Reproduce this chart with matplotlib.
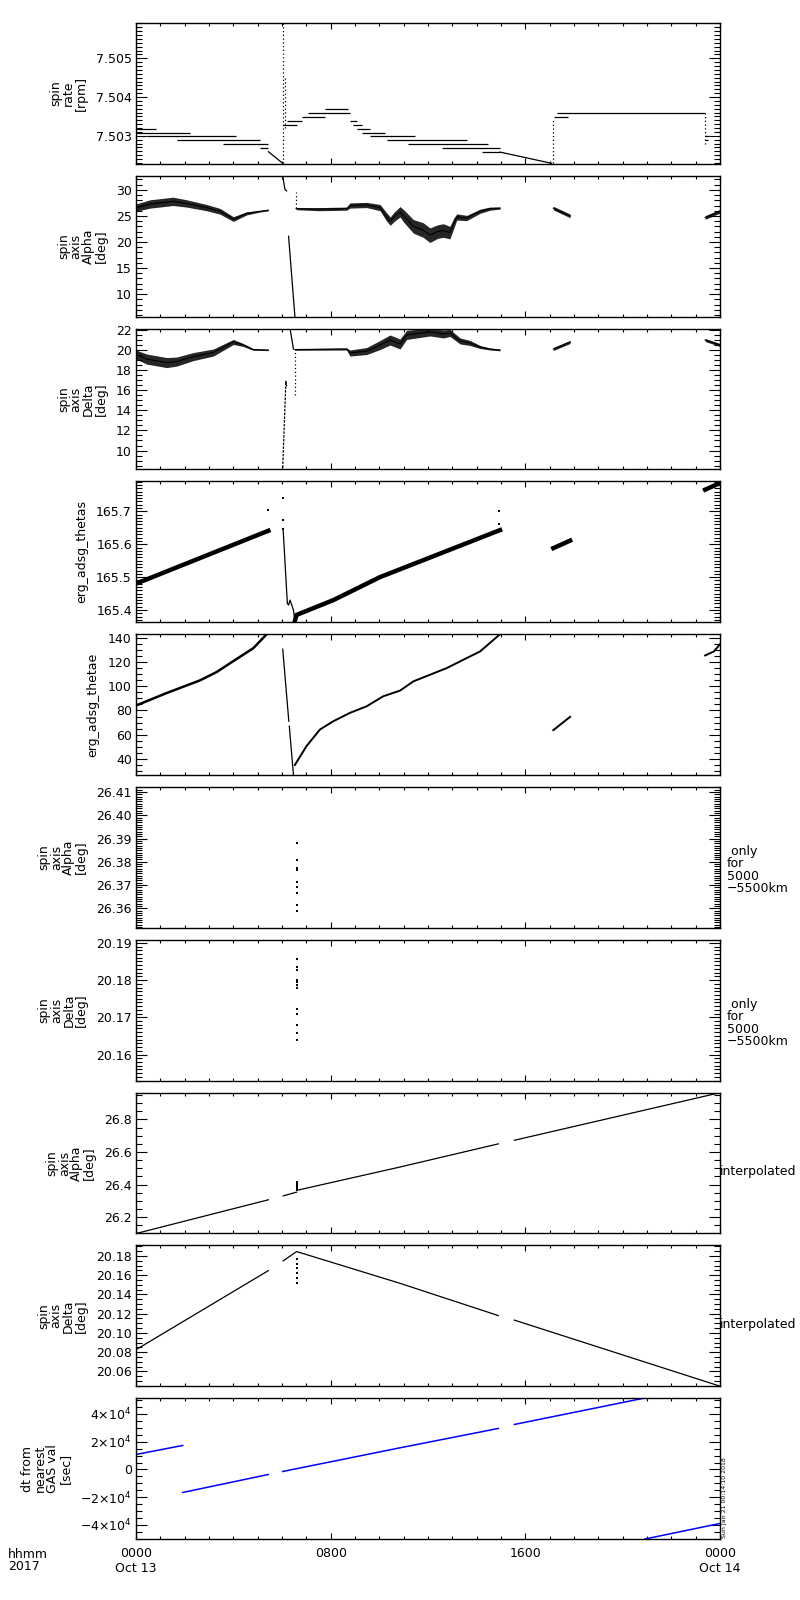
import matplotlib
matplotlib.use('Agg')
import matplotlib.pyplot as plt
import numpy as np
from matplotlib.ticker import FixedLocator, MultipleLocator, FixedFormatter

plt.rcParams['font.family'] = ['DejaVu Sans']
plt.rcParams['font.size'] = 9
plt.rcParams['mathtext.fontset'] = 'dejavusans'

# ---------------- time axis (hours since 2017-10-13 00:00 UT) ----------------
xtick_hours = [0, 8, 16, 24]
xtick_labels = ['0000\nOct 13', '0800', '1600', '0000\nOct 14']

# ---------------- panel 1: spin rate [rpm] ----------------
rate_lvl_t0 = [0.00, 0.00, 0.44, 1.67, 3.59, 5.10, 6.03, 6.22, 6.81, 7.08, 7.77, 8.79,
               8.93, 9.07, 9.27, 9.62, 10.30, 11.19, 12.56, 14.21, 17.18, 17.29, 23.39, 23.39]
rate_lvl_t1 = [0.82, 2.22, 4.11, 5.10, 5.44, 5.44, 6.60, 6.81, 7.77, 8.79, 8.73, 9.07,
               9.27, 9.62, 10.23, 11.47, 13.59, 14.48, 14.96, 14.96, 17.77, 23.39, 23.55, 23.50]
rate_lvl_v = [7.50318, 7.50307, 7.50300, 7.50290, 7.50279, 7.50268, 7.50328, 7.50337,
              7.50348, 7.50359, 7.50369, 7.50337, 7.50328, 7.50318, 7.50307, 7.50300,
              7.50290, 7.50279, 7.50268, 7.50258, 7.50348, 7.50359, 7.50300, 7.50290]
rate_ramp1_t = [5.44, 6.03]
rate_ramp1_v = [7.50259, 7.50229]
rate_ramp2_t = [14.96, 17.08]
rate_ramp2_v = [7.50258, 7.50229]
rate_spike_t = [6.03, 6.12, 17.15, 23.39]
rate_spike_lo = [7.50229, 7.50320, 7.50229, 7.50279]
rate_spike_hi = [7.50591, 7.50450, 7.50340, 7.50359]
rate_ylim = (7.50228, 7.50591)
rate_ticks = [7.503, 7.504, 7.505]
rate_ticklabels = ['7.503', '7.504', '7.505']

# ---------------- panel 2: spin axis Alpha [deg] ----------------
alpha_a_t = [0.0, 0.58, 1.53, 2.08, 2.90, 3.45, 4.00, 4.55, 5.10, 5.44]
alpha_a_v = [26.6, 27.3, 27.8, 27.4, 26.6, 25.9, 24.4, 25.5, 25.9, 26.1]
alpha_a_hw = [0.7, 0.8, 0.8, 0.7, 0.6, 0.55, 0.45, 0.3, 0.15, 0.12]
alpha_b_t = [6.58, 7.50, 8.66, 8.79, 9.48, 10.03, 10.30, 10.45, 10.60, 10.85, 11.00, 11.40,
             11.80, 12.08, 12.40, 12.63, 12.90, 13.05, 13.18, 13.59, 14.14, 14.55, 14.96]
alpha_b_v = [26.4, 26.3, 26.4, 27.0, 27.1, 26.6, 24.8, 24.0, 24.8, 25.8, 25.0, 23.0,
             22.3, 21.3, 22.0, 22.2, 21.8, 23.5, 24.8, 24.6, 25.9, 26.4, 26.5]
alpha_b_hw = [0.2, 0.3, 0.3, 0.5, 0.5, 0.6, 0.8, 0.8, 0.9, 1.0, 1.2, 1.3,
              1.4, 1.4, 1.3, 1.3, 1.2, 1.0, 0.6, 0.5, 0.4, 0.3, 0.2]
alpha_c_t = [17.15, 17.84]
alpha_c_v = [26.5, 25.0]
alpha_c_hw = [0.35, 0.35]
alpha_d_t = [23.39, 24.0]
alpha_d_v = [24.7, 25.9]
alpha_d_hw = [0.35, 0.35]
alpha_slew1_t = [6.03, 6.12, 6.19]
alpha_slew1_v = [32.7, 30.1, 29.8]
alpha_slew2_t = [6.27, 6.53]
alpha_slew2_v = [21.1, 5.7]
alpha_vdots_t = [6.58]
alpha_vdots_lo = [26.6]
alpha_vdots_hi = [29.5]
alpha_ylim = (5.7, 32.7)
alpha_ticks = [10, 15, 20, 25, 30]
alpha_ticklabels = ['10', '15', '20', '25', '30']

# ---------------- panel 3: spin axis Delta [deg] ----------------
delta_a_t = [0.0, 0.44, 1.26, 1.67, 2.36, 3.18, 4.00, 4.41, 4.82, 5.44]
delta_a_v = [19.55, 19.1, 18.75, 18.85, 19.35, 19.75, 20.8, 20.5, 20.05, 20.0]
delta_a_hw = [0.45, 0.5, 0.5, 0.45, 0.4, 0.35, 0.25, 0.15, 0.08, 0.06]
delta_b_t = [6.53, 8.66, 8.79, 9.48, 10.03, 10.44, 10.85, 11.12, 12.08, 12.63, 12.90,
             13.32, 13.73, 14.14, 14.55, 14.96]
delta_b_v = [20.05, 20.1, 19.7, 19.9, 20.5, 21.0, 20.6, 21.5, 21.8, 21.6, 21.7,
             20.9, 20.7, 20.3, 20.1, 20.0]
delta_b_hw = [0.08, 0.1, 0.3, 0.35, 0.45, 0.5, 0.5, 0.45, 0.4, 0.4, 0.35,
              0.3, 0.25, 0.15, 0.1, 0.08]
delta_c_t = [17.15, 17.84]
delta_c_v = [20.1, 20.8]
delta_c_hw = [0.15, 0.15]
delta_d_t = [23.39, 24.0]
delta_d_v = [21.0, 20.5]
delta_d_hw = [0.15, 0.15]
delta_slew1_t = [6.03, 6.10, 6.16, 6.19]
delta_slew1_v = [8.3, 13.0, 16.9, 16.4]
delta_slew2_t = [6.33, 6.47]
delta_slew2_v = [22.15, 20.1]
delta_vdots_t = [6.53]
delta_vdots_lo = [15.5]
delta_vdots_hi = [20.1]
delta_ylim = (8.13, 22.13)
delta_ticks = [10, 12, 14, 16, 18, 20, 22]
delta_ticklabels = ['10', '12', '14', '16', '18', '20', '22']

# ---------------- panel 4: erg_adsg_thetas ----------------
thetas_a_t = [0.0, 5.44]
thetas_a_v = [165.48, 165.641]
thetas_drop_t = [6.05, 6.22, 6.27, 6.33, 6.47, 6.53]
thetas_drop_v = [165.641, 165.42, 165.415, 165.43, 165.40, 165.367]
thetas_b_t = [6.53, 6.60, 8.11, 10.03, 14.96]
thetas_b_v = [165.367, 165.385, 165.43, 165.50, 165.643]
thetas_c_t = [17.15, 17.84]
thetas_c_v = [165.588, 165.611]
thetas_d_t = [23.39, 24.0]
thetas_d_v = [165.766, 165.786]
thetas_dots_t = [5.44, 6.03, 6.03, 6.03, 14.93, 14.93]
thetas_dots_v = [165.703, 165.741, 165.674, 165.646, 165.700, 165.661]
thetas_ylim = (165.363, 165.791)
thetas_ticks = [165.4, 165.5, 165.6, 165.7]
thetas_ticklabels = ['165.4', '165.5', '165.6', '165.7']

# ---------------- panel 5: erg_adsg_thetae ----------------
thetae_a_t = [0.0, 1.26, 2.63, 3.32, 4.00, 4.82, 5.37]
thetae_a_v = [84.1, 94.5, 105.0, 112.0, 121.0, 131.7, 143.3]
thetae_drop1_t = [6.03, 6.28]
thetae_drop1_v = [130.9, 71.1]
thetae_drop2_t = [6.30, 6.47]
thetae_drop2_v = [67.0, 26.5]
thetae_b_t = [6.53, 7.01, 7.56, 8.11, 8.79, 9.48, 10.16, 10.85, 11.40, 12.77, 13.45,
              14.14, 14.69, 14.96]
thetae_b_v = [34.8, 50.5, 64.2, 71.1, 78.0, 83.5, 91.8, 96.5, 104.2, 115.2, 122.1,
              129.0, 138.6, 143.3]
thetae_c_t = [17.15, 17.84]
thetae_c_v = [63.7, 74.7]
thetae_d_t = [23.39, 23.75, 24.0]
thetae_d_v = [125.7, 129.0, 135.0]
thetae_ylim = (26.5, 143.3)
thetae_ticks = [40, 60, 80, 100, 120, 140]
thetae_ticklabels = ['40', '60', '80', '100', '120', '140']

# ---------------- panel 6: spin axis Alpha, only for 5000-5500 km ----------------
alpha5k_t = [6.60] * 9
alpha5k_v = [26.3882, 26.3806, 26.3772, 26.3764, 26.3715, 26.3693, 26.3667, 26.3614, 26.3589]
alpha5k_ylim = (26.3517, 26.4121)
alpha5k_ticks = [26.36, 26.37, 26.38, 26.39, 26.40, 26.41]
alpha5k_ticklabels = ['26.36', '26.37', '26.38', '26.39', '26.40', '26.41']

# ---------------- panel 7: spin axis Delta, only for 5000-5500 km ----------------
delta5k_t = [6.60] * 12
delta5k_v = [20.1857, 20.1834, 20.1828, 20.1801, 20.1794, 20.1786, 20.1779, 20.1722,
             20.1708, 20.1679, 20.1659, 20.1638]
delta5k_ylim = (20.153, 20.1908)
delta5k_ticks = [20.16, 20.17, 20.18, 20.19]
delta5k_ticklabels = ['20.16', '20.17', '20.18', '20.19']

# ---------------- panel 8: spin axis Alpha, interpolated ----------------
alphai_a_t = [0.0, 5.44]
alphai_a_v = [26.100, 26.307]
alphai_b_t = [6.05, 6.60]
alphai_b_v = [26.331, 26.354]
alphai_c_t = [6.64, 10.85, 14.89]
alphai_c_v = [26.366, 26.508, 26.650]
alphai_d_t = [15.55, 24.0]
alphai_d_v = [26.672, 26.964]
alphai_dots_t = [6.60] * 6
alphai_dots_v = [26.365, 26.375, 26.385, 26.395, 26.405, 26.418]
alphai_ylim = (26.101, 26.964)
alphai_ticks = [26.2, 26.4, 26.6, 26.8]
alphai_ticklabels = ['26.2', '26.4', '26.6', '26.8']

# ---------------- panel 9: spin axis Delta, interpolated ----------------
deltai_a_t = [0.0, 5.44]
deltai_a_v = [20.0826, 20.1647]
deltai_b_t = [6.05, 6.60, 10.85, 14.89]
deltai_b_v = [20.1748, 20.1845, 20.1515, 20.118]
deltai_c_t = [15.55, 24.0]
deltai_c_v = [20.1133, 20.0447]
deltai_dots_t = [6.60] * 6
deltai_dots_v = [20.152, 20.157, 20.162, 20.167, 20.172, 20.177]
deltai_ylim = (20.0447, 20.1908)
deltai_ticks = [20.06, 20.08, 20.10, 20.12, 20.14, 20.16, 20.18]
deltai_ticklabels = ['20.06', '20.08', '20.10', '20.12', '20.14', '20.16', '20.18']

# ---------------- panel 10: dt from nearest GAS val [sec] ----------------
dt_a_t = [0.0, 1.92]
dt_a_v = [10811, 17300]
dt_b_t = [1.92, 5.44]
dt_b_v = [-16577, -3604]
dt_c_t = [6.03, 10.85, 14.89]
dt_c_v = [-1441, 15616, 29550]
dt_d_t = [15.55, 20.85]
dt_d_v = [32430, 51290]
dt_e_t = [20.92, 24.0]
dt_e_v = [-50090, -38900]
dt_ylim = (-50090, 51290)
dt_ticks = [-40000, -20000, 0, 20000, 40000]
dt_ticklabels = [r'$-4{\times}10^{4}$', r'$-2{\times}10^{4}$', '0',
                 r'$2{\times}10^{4}$', r'$4{\times}10^{4}$']

LABEL_ALPHA = 'spin\naxis\nAlpha\n[deg]'
LABEL_DELTA = 'spin\naxis\nDelta\n[deg]'

# ---------------- figure ----------------
W, H = 800, 1600
fig = plt.figure(figsize=(W / 100, H / 100), dpi=100)
fig.patch.set_facecolor('white')

LEFT_PX, RIGHT_PX = 136, 720
TOP0_PX, STEP_PX, HEIGHT_PX = 23, 152.81, 140.7


def make_axes(i):
    top = TOP0_PX + i * STEP_PX
    return fig.add_axes([LEFT_PX / W, 1 - (top + HEIGHT_PX) / H,
                         (RIGHT_PX - LEFT_PX) / W, HEIGHT_PX / H])


def style(ax, ylim, ticks, ticklabels, yminor, ylabel, last=False):
    ax.set_xlim(0, 24)
    ax.set_ylim(*ylim)
    ax.xaxis.set_major_locator(FixedLocator(xtick_hours))
    ax.xaxis.set_minor_locator(MultipleLocator(1))
    ax.yaxis.set_major_locator(FixedLocator(ticks))
    ax.yaxis.set_major_formatter(FixedFormatter(ticklabels))
    ax.yaxis.set_minor_locator(MultipleLocator(yminor))
    ax.tick_params(axis='both', which='both', direction='in', top=True, right=True,
                   width=0.8, color='k')
    ax.tick_params(axis='y', which='major', length=7.8, pad=3, labelsize=9)
    ax.tick_params(axis='y', which='minor', length=4.6)
    ax.tick_params(axis='x', which='major', length=4.5)
    ax.tick_params(axis='x', which='minor', length=2.4)
    if last:
        ax.xaxis.set_major_formatter(FixedFormatter(xtick_labels))
        ax.tick_params(axis='x', which='major', pad=6, labelsize=9)
    else:
        ax.tick_params(axis='x', labelbottom=False)
    for s in ax.spines.values():
        s.set_linewidth(1.0)
    ax.set_ylabel(ylabel, linespacing=0.95, labelpad=6, fontsize=9)


def band(ax, t, v, hw, color='k'):
    t = np.asarray(t); v = np.asarray(v); hw = np.asarray(hw)
    ax.fill_between(t, v - hw, v + hw, color=color, lw=0, alpha=0.85)
    ax.plot(t, v, color=color, lw=0.8)


LW = 0.9
DOT = (0, (1, 2))
DOTSTYLE = dict(ls='none', marker='s', ms=1.6, mew=0, color='k')

# panel 1
ax = make_axes(0)
ax.hlines(rate_lvl_v, rate_lvl_t0, rate_lvl_t1, color='k', lw=LW)
ax.plot(rate_ramp1_t, rate_ramp1_v, color='k', lw=LW)
ax.plot(rate_ramp2_t, rate_ramp2_v, color='k', lw=LW)
ax.vlines(rate_spike_t, rate_spike_lo, rate_spike_hi, color='k', lw=LW, linestyles=DOT)
style(ax, rate_ylim, rate_ticks, rate_ticklabels, 0.0001, 'spin\nrate\n[rpm]')

# panel 2
ax = make_axes(1)
band(ax, alpha_a_t, alpha_a_v, alpha_a_hw)
band(ax, alpha_b_t, alpha_b_v, alpha_b_hw)
band(ax, alpha_c_t, alpha_c_v, alpha_c_hw)
band(ax, alpha_d_t, alpha_d_v, alpha_d_hw)
ax.plot(alpha_slew1_t, alpha_slew1_v, color='k', lw=LW)
ax.plot(alpha_slew2_t, alpha_slew2_v, color='k', lw=LW)
ax.vlines(alpha_vdots_t, alpha_vdots_lo, alpha_vdots_hi, color='k', lw=LW, linestyles=DOT)
style(ax, alpha_ylim, alpha_ticks, alpha_ticklabels, 1, LABEL_ALPHA)

# panel 3
ax = make_axes(2)
band(ax, delta_a_t, delta_a_v, delta_a_hw)
band(ax, delta_b_t, delta_b_v, delta_b_hw)
band(ax, delta_c_t, delta_c_v, delta_c_hw)
band(ax, delta_d_t, delta_d_v, delta_d_hw)
ax.plot(delta_slew1_t, delta_slew1_v, color='k', lw=LW, ls=(0, (2, 1)))
ax.plot(delta_slew2_t, delta_slew2_v, color='k', lw=LW)
ax.vlines(delta_vdots_t, delta_vdots_lo, delta_vdots_hi, color='k', lw=LW, linestyles=DOT)
style(ax, delta_ylim, delta_ticks, delta_ticklabels, 0.5, LABEL_DELTA)

# panel 4
ax = make_axes(3)
ax.plot(thetas_a_t, thetas_a_v, color='k', lw=3.2)
ax.plot(thetas_drop_t, thetas_drop_v, color='k', lw=LW)
ax.plot(thetas_b_t, thetas_b_v, color='k', lw=3.2)
ax.plot(thetas_c_t, thetas_c_v, color='k', lw=3.2)
ax.plot(thetas_d_t, thetas_d_v, color='k', lw=3.2)
ax.plot(thetas_dots_t, thetas_dots_v, **DOTSTYLE)
style(ax, thetas_ylim, thetas_ticks, thetas_ticklabels, 0.01, 'erg_adsg_thetas')

# panel 5
ax = make_axes(4)
ax.plot(thetae_a_t, thetae_a_v, color='k', lw=1.8)
ax.plot(thetae_drop1_t, thetae_drop1_v, color='k', lw=LW)
ax.plot(thetae_drop2_t, thetae_drop2_v, color='k', lw=LW)
ax.plot(thetae_b_t, thetae_b_v, color='k', lw=1.4)
ax.plot(thetae_c_t, thetae_c_v, color='k', lw=1.4)
ax.plot(thetae_d_t, thetae_d_v, color='k', lw=1.4)
style(ax, thetae_ylim, thetae_ticks, thetae_ticklabels, 5, 'erg_adsg_thetae')

# panel 6
ax = make_axes(5)
ax.plot(alpha5k_t, alpha5k_v, **DOTSTYLE)
style(ax, alpha5k_ylim, alpha5k_ticks, alpha5k_ticklabels, 0.001, LABEL_ALPHA)
ax.text(1.012, 0.41, ' only\nfor\n5000\n\u22125500km', transform=ax.transAxes,
        ha='left', va='center', fontsize=9, linespacing=0.95)

# panel 7
ax = make_axes(6)
ax.plot(delta5k_t, delta5k_v, **DOTSTYLE)
style(ax, delta5k_ylim, delta5k_ticks, delta5k_ticklabels, 0.001, LABEL_DELTA)
ax.text(1.012, 0.41, ' only\nfor\n5000\n\u22125500km', transform=ax.transAxes,
        ha='left', va='center', fontsize=9, linespacing=0.95)

# panel 8
ax = make_axes(7)
for tt, vv in [(alphai_a_t, alphai_a_v), (alphai_b_t, alphai_b_v),
               (alphai_c_t, alphai_c_v), (alphai_d_t, alphai_d_v)]:
    ax.plot(tt, vv, color='k', lw=LW)
ax.plot(alphai_dots_t, alphai_dots_v, **DOTSTYLE)
style(ax, alphai_ylim, alphai_ticks, alphai_ticklabels, 0.05, LABEL_ALPHA)
ax.text(1.0, 0.44, 'interpolated', transform=ax.transAxes, ha='left', va='center', fontsize=9)

# panel 9
ax = make_axes(8)
for tt, vv in [(deltai_a_t, deltai_a_v), (deltai_b_t, deltai_b_v), (deltai_c_t, deltai_c_v)]:
    ax.plot(tt, vv, color='k', lw=LW)
ax.plot(deltai_dots_t, deltai_dots_v, **DOTSTYLE)
style(ax, deltai_ylim, deltai_ticks, deltai_ticklabels, 0.005, LABEL_DELTA)
ax.text(1.0, 0.44, 'interpolated', transform=ax.transAxes, ha='left', va='center', fontsize=9)

# panel 10
ax = make_axes(9)
for tt, vv in [(dt_a_t, dt_a_v), (dt_b_t, dt_b_v), (dt_c_t, dt_c_v),
               (dt_d_t, dt_d_v), (dt_e_t, dt_e_v)]:
    ax.plot(tt, vv, color='#0000ff', lw=1.1)
style(ax, dt_ylim, dt_ticks, dt_ticklabels, 5000, 'dt from\nnearest\nGAS val\n[sec]', last=True)

fig.text(8 / W, 1 - 1548 / H, 'hhmm\n2017', ha='left', va='top', fontsize=9, linespacing=0.95)
fig.text(722 / W, 1 - 1538 / H, 'Sun Jan 21 00:14:10 2018', rotation=90,
         ha='left', va='bottom', fontsize=4.5)

fig.savefig('out.png', dpi=100, facecolor='white')
